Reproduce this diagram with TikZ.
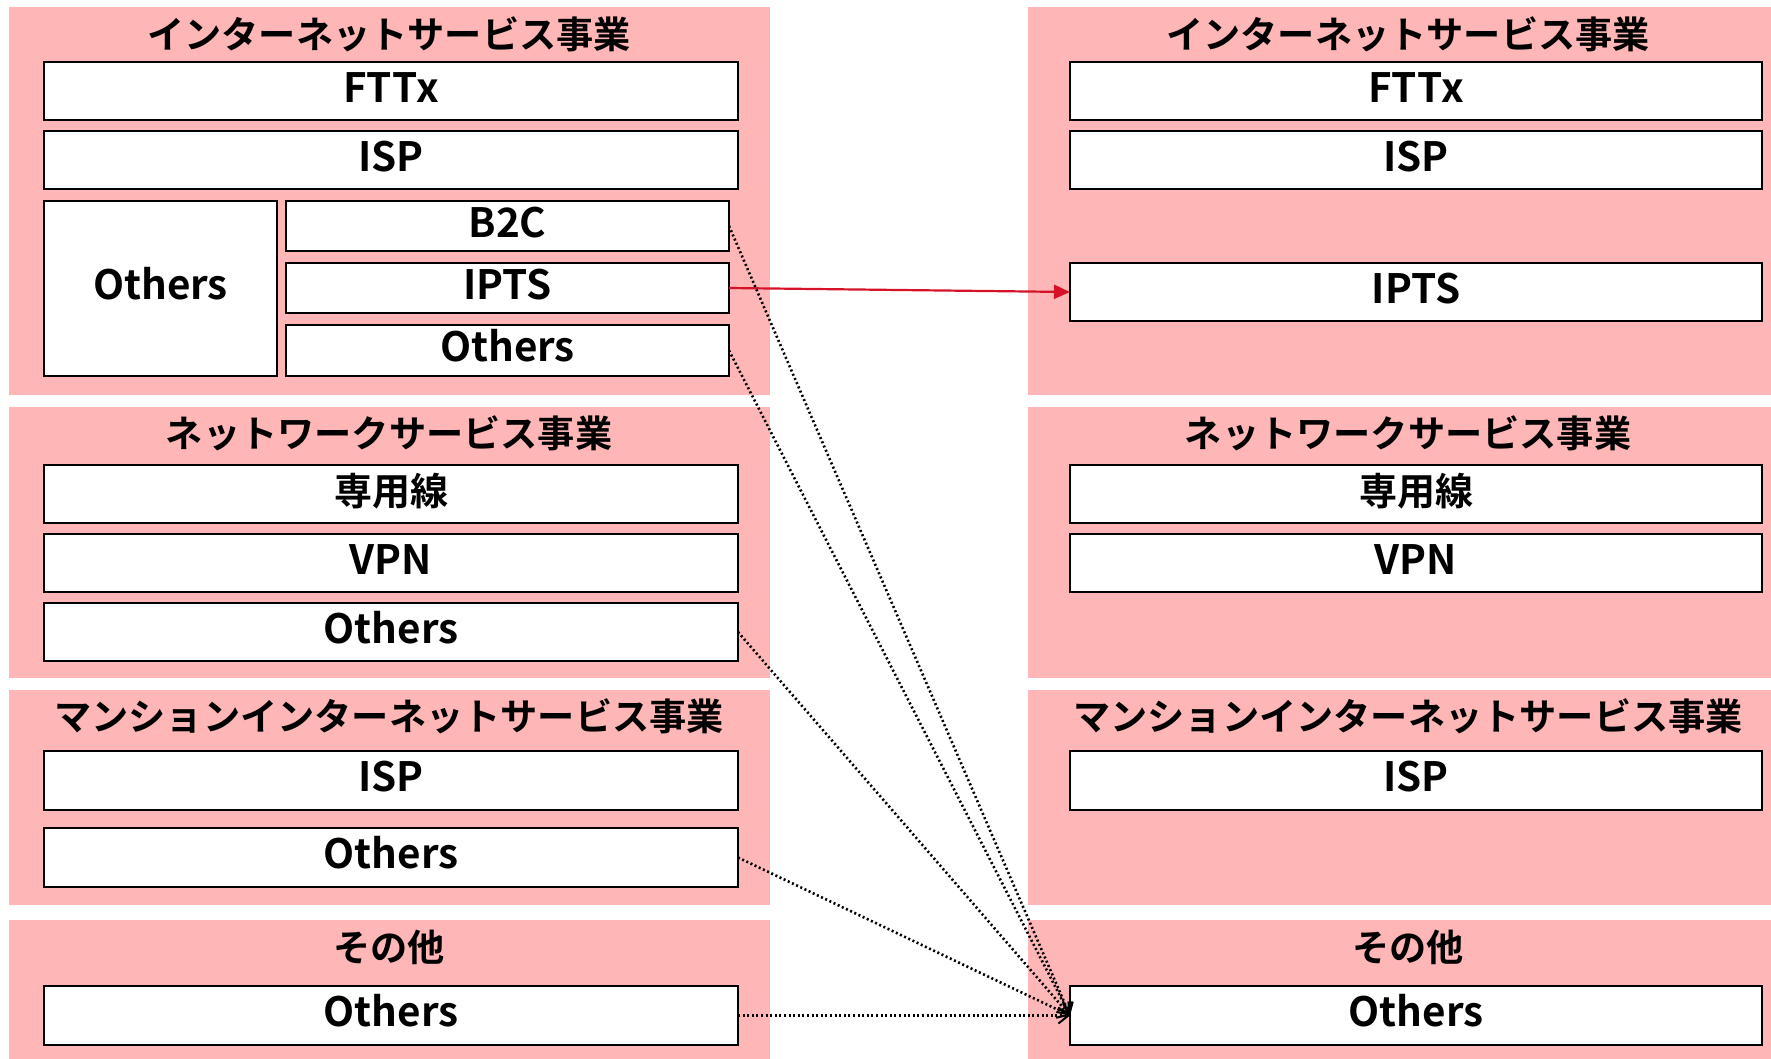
\documentclass[tikz,border=0pt]{standalone}
\usepackage{fontspec}
\setmainfont{Noto Sans CJK JP}[BoldFont={Noto Sans CJK JP Bold}]
\usetikzlibrary{arrows.meta}
\definecolor{panelpink}{RGB}{255,182,182}
\definecolor{arrowred}{RGB}{214,18,40}
\tikzset{
  panel/.style={fill=panelpink, draw=none, inner sep=0pt, outer sep=0pt},
  bx/.style={fill=white, draw=black, line width=1.3pt, inner sep=0pt, outer sep=0pt,
    font=\bfseries\fontsize{20.2}{24}\selectfont, text height=14.5pt, text depth=3.4pt},
  ttl/.style={inner sep=0pt, font=\bfseries\fontsize{18.6}{22}\selectfont},
  moveline/.style={draw=black, line width=1.3pt, dash pattern=on 1pt off 1.3pt,
    -{Straight Barb[length=5pt,width=8pt,line width=1pt]}},
  redline/.style={draw=arrowred, line width=1.1pt, -{Triangle[length=8pt,width=7pt]}}
}
\newcommand\mkbox[7][bx]{\node[#1, minimum width={(#5-#3)*0.5pt}, minimum height={(#6-#4)*0.5pt}] (#2) at ({(#3+#5)/2},{(#4+#6)/2}) {#7};}
\begin{document}
\begin{tikzpicture}[x=0.5pt,y=-0.5pt]
\useasboundingbox (0,0) rectangle (1771,1059);
% panels
\mkbox[panel]{pL1}{9}{7}{770}{395}{}
\mkbox[panel]{pL2}{9}{407}{770}{678}{}
\mkbox[panel]{pL3}{9}{690}{770}{905}{}
\mkbox[panel]{pL4}{9}{920}{770}{1059}{}
\mkbox[panel]{pR1}{1028}{7}{1771}{395}{}
\mkbox[panel]{pR2}{1028}{407}{1771}{678}{}
\mkbox[panel]{pR3}{1028}{690}{1771}{905}{}
\mkbox[panel]{pR4}{1028}{920}{1771}{1059}{}
% titles
\node[ttl] (tL1) at (389,34) {インターネットサービス事業};
\node[ttl] (tL2) at (389,433) {ネットワークサービス事業};
\node[ttl] (tL3) at (389,716) {マンションインターネットサービス事業};
\node[ttl] (tL4) at (389,947) {その他};
\node[ttl] (tR1) at (1408,34) {インターネットサービス事業};
\node[ttl] (tR2) at (1408,433) {ネットワークサービス事業};
\node[ttl] (tR3) at (1408,716) {マンションインターネットサービス事業};
\node[ttl] (tR4) at (1408,947) {その他};
% left boxes
\mkbox{lfttx}{44}{62}{738}{120}{FTTx}
\mkbox{lisp}{44}{131}{738}{189}{ISP}
\mkbox{lothbig}{44}{201}{277}{376}{Others}
\mkbox{lb2c}{286}{201}{729}{251}{B2C}
\mkbox{lipts}{286}{263}{729}{313}{IPTS}
\mkbox{loth1}{286}{325}{729}{376}{Others}
\mkbox{lsen}{44}{465}{738}{523}{\fontsize{19}{22}\selectfont 専用線}
\mkbox{lvpn}{44}{534}{738}{592}{VPN}
\mkbox{loth2}{44}{603}{738}{661}{Others}
\mkbox{lmisp}{44}{751}{738}{810}{ISP}
\mkbox{loth3}{44}{828}{738}{887}{Others}
\mkbox{loth4}{44}{986}{738}{1045}{Others}
% right boxes
\mkbox{rfttx}{1070}{62}{1762}{120}{FTTx}
\mkbox{risp}{1070}{131}{1762}{189}{ISP}
\mkbox{ripts}{1070}{263}{1762}{321}{IPTS}
\mkbox{rsen}{1070}{465}{1762}{523}{\fontsize{19}{22}\selectfont 専用線}
\mkbox{rvpn}{1070}{534}{1762}{592}{VPN}
\mkbox{rmisp}{1070}{751}{1762}{810}{ISP}
\mkbox{roth4}{1070}{986}{1762}{1045}{Others}
% connectors
\draw[redline] (lipts.east) -- (ripts.west);
\draw[moveline] (lb2c.east) -- (roth4.west);
\draw[moveline] (loth1.east) -- (roth4.west);
\draw[moveline] (loth2.east) -- (roth4.west);
\draw[moveline] (loth3.east) -- (roth4.west);
\draw[moveline] (loth4.east) -- (roth4.west);
\end{tikzpicture}
\end{document}
